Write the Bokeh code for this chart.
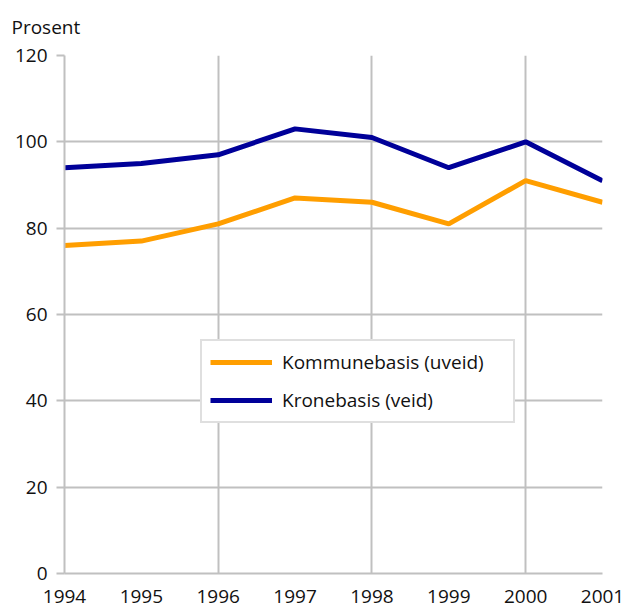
from bokeh.plotting import figure
from bokeh.models import FixedTicker, Legend, LegendItem, Range1d
from bokeh.embed import file_html
from bokeh.resources import INLINE

years = [1994, 1995, 1996, 1997, 1998, 1999, 2000, 2001]
kommunebasis = [76, 77, 81, 87, 86, 81, 91, 86]
kronebasis = [94, 95, 97, 103, 101, 94, 100, 91]
y_ticks = [0, 20, 40, 60, 80, 100, 120]
x_grid_years = [1994, 1996, 1998, 2000]
series_names = ["Kommunebasis (uveid)", "Kronebasis (veid)"]
unit_label = "Prosent"

FONT = "Open Sans"
FS = "19px"
GRID = "#c0c0c0"
TXT = "#111111"

p = figure(width=624, height=615, output_backend="svg", toolbar_location=None,
           x_range=Range1d(1994, 2001), y_range=Range1d(0, 120),
           min_border_left=64, min_border_right=22, min_border_top=55, min_border_bottom=42)
p.outline_line_color = None
p.background_fill_color = "white"
p.border_fill_color = "white"

p.title.text = unit_label
p.title.align = "left"
p.title.offset = -53
p.title.standoff = 27
p.title.vertical_align = "top"
p.title.text_font = FONT
p.title.text_font_size = FS
p.title.text_font_style = "normal"
p.title.text_color = TXT

p.xaxis.ticker = FixedTicker(ticks=years)
p.yaxis.ticker = FixedTicker(ticks=y_ticks)
p.xgrid.ticker = FixedTicker(ticks=x_grid_years)
p.ygrid.ticker = FixedTicker(ticks=y_ticks)
for g in (p.xgrid, p.ygrid):
    g.grid_line_color = GRID
    g.grid_line_width = 2

for ax in (p.xaxis, p.yaxis):
    ax.axis_line_color = GRID
    ax.axis_line_width = 2
    ax.major_tick_line_color = GRID
    ax.major_tick_line_width = 2
    ax.minor_tick_line_color = None
    ax.major_label_text_font = FONT
    ax.major_label_text_font_size = FS
    ax.major_label_text_color = TXT

p.xaxis.major_tick_out = 0
p.xaxis.major_tick_in = 0
p.xaxis.major_label_standoff = 16
p.yaxis.major_tick_out = 8
p.yaxis.major_tick_in = 0
p.yaxis.major_label_standoff = 9

r1 = p.line(years, kommunebasis, line_color="#ff9e00", line_width=5)
r2 = p.line(years, kronebasis, line_color="#000099", line_width=5)

legend = Legend(items=[LegendItem(label=series_names[0], renderers=[r1]),
                       LegendItem(label=series_names[1], renderers=[r2])],
                location=(136, 150), padding=8, spacing=12,
                glyph_width=62, glyph_height=20, label_height=20, label_width=223,
                label_standoff=10, label_text_font=FONT, label_text_font_size=FS,
                label_text_color=TXT, border_line_color=GRID, border_line_width=2,
                background_fill_alpha=1, margin=0)
p.add_layout(legend, "center")

open("out.html", "w").write(file_html(p, INLINE))
